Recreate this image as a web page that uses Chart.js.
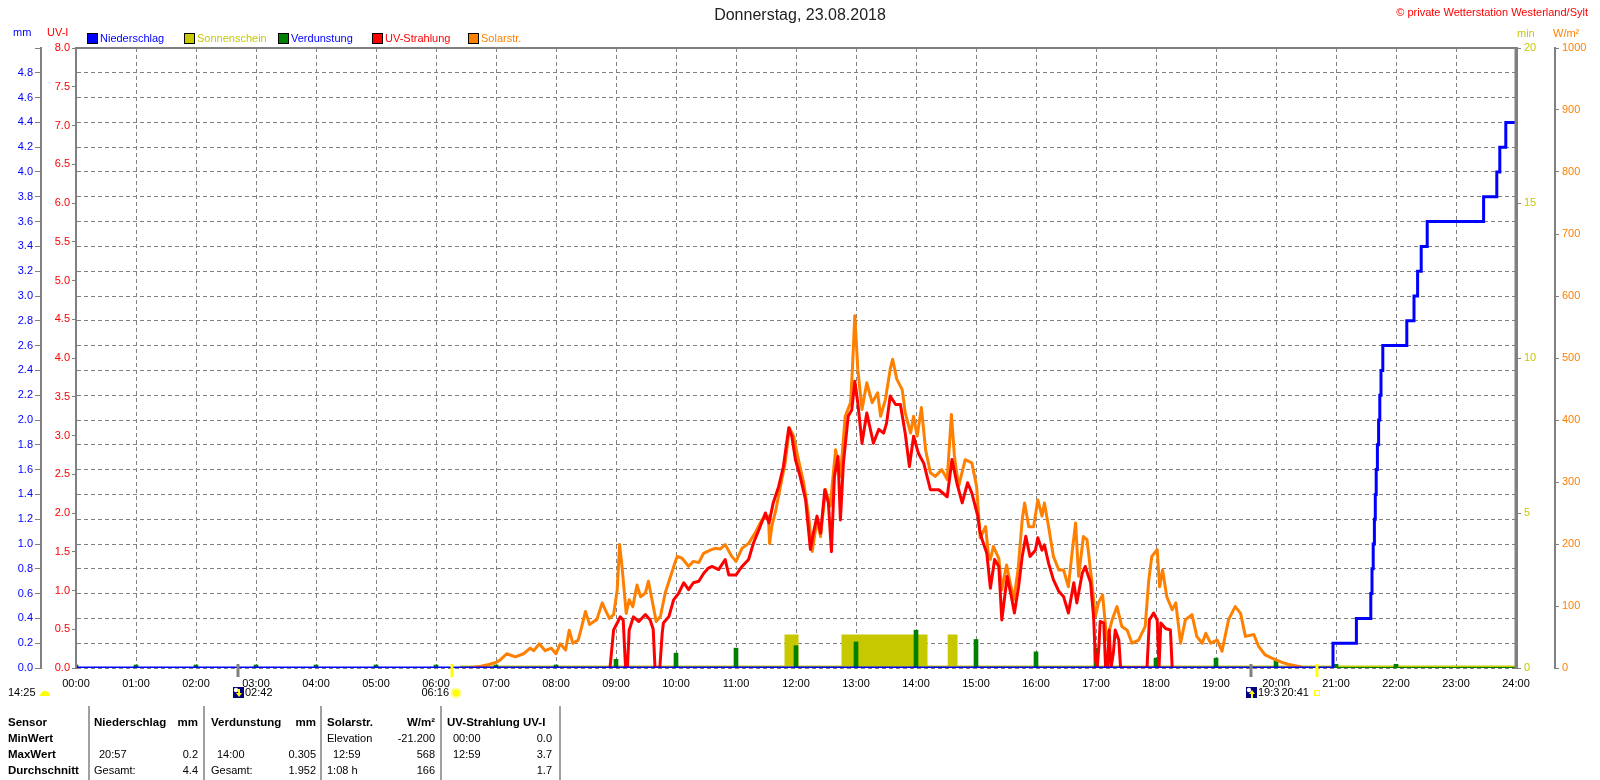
<!DOCTYPE html>
<html><head><meta charset="utf-8">
<script src="https://cdn.jsdelivr.net/npm/chart.js@4.4.0/dist/chart.umd.min.js"></script>
<style>
html,body{margin:0;padding:0;background:#fff;}
#wrap{position:relative;width:1600px;height:780px;overflow:hidden;font-family:"Liberation Sans",Arial,sans-serif;background:#fff;}
canvas{position:absolute;left:0;top:0;}
.t{position:absolute;white-space:nowrap;font-size:11px;line-height:14px;}
.r{text-align:right;}
.b{font-weight:bold;font-size:11.5px;}
.box{position:absolute;width:9px;height:9px;border:1px solid #000;}
.sep{position:absolute;top:706px;height:74px;width:2px;background:#a0a0a0;}
</style></head>
<body><div id="wrap">
<canvas id="c" width="1600" height="780"></canvas>
<div class="t" style="left:0;width:1600px;top:6px;text-align:center;font-size:16px;line-height:18px;color:#222;">Donnerstag, 23.08.2018</div>
<div class="t" style="right:12px;top:5px;color:#ff0000;">© private Wetterstation Westerland/Sylt</div>
<div class="t" style="left:13px;top:25px;color:#0000ff;">mm</div>
<div class="t" style="left:47px;top:25px;color:#ff0000;">UV-I</div>
<div class="t" style="left:1517px;top:26px;color:#c8c800;">min</div>
<div class="t" style="left:1553px;top:26px;color:#ff8000;">W/m²</div>
<div class="box" style="left:87px;top:33px;background:#0000ff;"></div><div class="t" style="left:100px;top:31px;color:#0000ff;">Niederschlag</div>
<div class="box" style="left:184px;top:33px;background:#c8c800;"></div><div class="t" style="left:197px;top:31px;color:#c8c800;">Sonnenschein</div>
<div class="box" style="left:278px;top:33px;background:#008000;"></div><div class="t" style="left:291px;top:31px;color:#0000ff;">Verdunstung</div>
<div class="box" style="left:372px;top:33px;background:#ff0000;"></div><div class="t" style="left:385px;top:31px;color:#ff0000;">UV-Strahlung</div>
<div class="box" style="left:468px;top:33px;background:#ff8000;"></div><div class="t" style="left:481px;top:31px;color:#ff8000;">Solarstr.</div>

<div class="sep" style="left:88px"></div><div class="sep" style="left:203px"></div><div class="sep" style="left:320px"></div><div class="sep" style="left:440px"></div><div class="sep" style="left:559px"></div>
<div class="t b" style="left:8px;top:715px;">Sensor</div>
<div class="t b" style="left:8px;top:731px;">MinWert</div>
<div class="t b" style="left:8px;top:747px;">MaxWert</div>
<div class="t b" style="left:8px;top:763px;">Durchschnitt</div>
<div class="t b" style="left:94px;top:715px;">Niederschlag</div><div class="t b r" style="left:160px;width:38px;top:715px;">mm</div>
<div class="t" style="left:99px;top:747px;">20:57</div><div class="t r" style="left:160px;width:38px;top:747px;">0.2</div>
<div class="t" style="left:94px;top:763px;">Gesamt:</div><div class="t r" style="left:160px;width:38px;top:763px;">4.4</div>
<div class="t b" style="left:211px;top:715px;">Verdunstung</div><div class="t b r" style="left:270px;width:46px;top:715px;">mm</div>
<div class="t" style="left:217px;top:747px;">14:00</div><div class="t r" style="left:270px;width:46px;top:747px;">0.305</div>
<div class="t" style="left:211px;top:763px;">Gesamt:</div><div class="t r" style="left:270px;width:46px;top:763px;">1.952</div>
<div class="t b" style="left:327px;top:715px;">Solarstr.</div><div class="t b r" style="left:390px;width:45px;top:715px;">W/m²</div>
<div class="t" style="left:327px;top:731px;">Elevation</div><div class="t r" style="left:380px;width:55px;top:731px;">-21.200</div>
<div class="t" style="left:333px;top:747px;">12:59</div><div class="t r" style="left:380px;width:55px;top:747px;">568</div>
<div class="t" style="left:327px;top:763px;">1:08 h</div><div class="t r" style="left:380px;width:55px;top:763px;">166</div>
<div class="t b" style="left:447px;top:715px;">UV-Strahlung UV-I</div>
<div class="t" style="left:453px;top:731px;">00:00</div><div class="t r" style="left:510px;width:42px;top:731px;">0.0</div>
<div class="t" style="left:453px;top:747px;">12:59</div><div class="t r" style="left:510px;width:42px;top:747px;">3.7</div>
<div class="t r" style="left:510px;width:42px;top:763px;">1.7</div>
</div>
<script>
// ---------- DATA ----------
const hourTicks = [0,1,2,3,4,5,6,7,8,9,10,11,12,13,14,15,16,17,18,19,20,21,22,23,24];
const hourLabels = ["00:00","01:00","02:00","03:00","04:00","05:00","06:00","07:00","08:00","09:00","10:00","11:00","12:00","13:00","14:00","15:00","16:00","17:00","18:00","19:00","20:00","21:00","22:00","23:00","24:00"];

// Solarstrahlung W/m² : [hour, value]
const solarSeries = [[6.55,0],[6.75,3],[6.9,6],[7.0,9],[7.07,13],[7.18,23],[7.32,18],[7.46,23],[7.57,32],[7.63,28],[7.72,39],[7.82,28],[7.92,32],[8.0,23],[8.07,39],[8.16,29],[8.22,61],[8.28,40],[8.37,45],[8.43,67],[8.49,91],[8.56,70],[8.63,75],[8.68,78],[8.77,105],[8.82,94],[8.89,80],[8.96,86],[9.02,126],[9.06,199],[9.1,164],[9.17,88],[9.22,110],[9.28,99],[9.35,134],[9.41,115],[9.49,121],[9.54,140],[9.6,110],[9.67,75],[9.74,83],[9.82,121],[9.91,148],[9.98,169],[10.02,180],[10.1,177],[10.21,164],[10.29,172],[10.38,170],[10.46,185],[10.57,190],[10.65,193],[10.74,192],[10.82,199],[10.93,180],[11.0,172],[11.1,193],[11.21,201],[11.32,218],[11.43,239],[11.54,245],[11.56,201],[11.6,230],[11.66,253],[11.74,293],[11.82,331],[11.89,387],[11.96,374],[12.04,336],[12.13,298],[12.21,245],[12.27,188],[12.35,239],[12.41,212],[12.49,288],[12.57,261],[12.66,352],[12.74,309],[12.82,406],[12.91,428],[12.94,482],[12.98,568],[13.03,482],[13.1,417],[13.18,460],[13.27,428],[13.36,444],[13.41,406],[13.49,433],[13.57,482],[13.61,498],[13.68,466],[13.77,449],[13.82,412],[13.91,379],[13.96,406],[14.02,374],[14.09,420],[14.16,352],[14.24,315],[14.32,309],[14.43,320],[14.52,304],[14.59,409],[14.64,342],[14.71,293],[14.82,336],[14.93,331],[15.01,293],[15.07,210],[15.16,228],[15.21,180],[15.24,175],[15.29,196],[15.38,177],[15.43,126],[15.51,166],[15.57,137],[15.63,110],[15.7,158],[15.77,239],[15.81,266],[15.88,228],[15.96,228],[16.03,271],[16.1,245],[16.14,266],[16.21,228],[16.29,180],[16.38,158],[16.46,158],[16.54,131],[16.6,185],[16.66,234],[16.71,148],[16.79,212],[16.85,207],[16.92,148],[16.99,83],[17.04,105],[17.11,118],[17.18,45],[17.27,78],[17.35,99],[17.43,67],[17.52,61],[17.6,40],[17.71,45],[17.82,67],[17.88,142],[17.93,180],[18.02,191],[18.06,131],[18.11,158],[18.18,115],[18.27,94],[18.33,105],[18.41,40],[18.49,78],[18.6,86],[18.68,51],[18.77,40],[18.83,56],[18.91,40],[19.02,45],[19.1,27],[19.21,78],[19.32,99],[19.41,88],[19.49,51],[19.63,54],[19.71,35],[19.82,21],[19.93,16],[20.0,13],[20.1,9],[20.2,6],[20.3,4],[20.4,2],[20.45,0]];

// UV-Strahlung UV-I : [hour, value]
const uvSeries = [[8.9,0],[8.96,0.49],[9.02,0.58],[9.07,0.66],[9.12,0.62],[9.14,0.3],[9.16,0],[9.19,0],[9.22,0.49],[9.29,0.66],[9.38,0.60],[9.49,0.69],[9.57,0.62],[9.62,0.5],[9.65,0],[9.73,0],[9.77,0.45],[9.79,0.58],[9.88,0.66],[9.96,0.88],[10.04,0.96],[10.13,1.10],[10.21,1.01],[10.29,1.10],[10.38,1.12],[10.46,1.22],[10.54,1.29],[10.6,1.31],[10.71,1.27],[10.82,1.40],[10.88,1.20],[11.0,1.20],[11.1,1.31],[11.21,1.40],[11.29,1.61],[11.38,1.78],[11.49,2.00],[11.55,1.87],[11.62,2.13],[11.71,2.34],[11.79,2.60],[11.88,3.10],[11.93,2.99],[11.99,2.69],[12.07,2.47],[12.16,2.17],[12.24,1.53],[12.29,1.74],[12.35,1.96],[12.41,1.74],[12.48,2.30],[12.54,2.13],[12.59,1.50],[12.64,2.47],[12.7,2.73],[12.74,1.91],[12.79,2.64],[12.87,3.25],[12.93,3.33],[12.98,3.70],[13.03,3.42],[13.1,2.90],[13.18,3.29],[13.29,2.90],[13.38,3.08],[13.46,3.03],[13.51,3.16],[13.57,3.51],[13.66,3.40],[13.74,3.40],[13.82,3.03],[13.89,2.60],[13.96,2.99],[14.04,2.77],[14.13,2.64],[14.24,2.30],[14.38,2.30],[14.52,2.21],[14.6,2.69],[14.68,2.39],[14.77,2.13],[14.86,2.39],[14.93,2.26],[15.03,1.96],[15.06,1.78],[15.1,1.66],[15.18,1.48],[15.24,1.03],[15.31,1.40],[15.38,1.31],[15.43,0.62],[15.52,1.18],[15.59,0.92],[15.64,0.71],[15.71,1.05],[15.77,1.44],[15.83,1.70],[15.9,1.44],[15.99,1.52],[16.03,1.68],[16.1,1.52],[16.14,1.59],[16.21,1.35],[16.29,1.14],[16.38,0.99],[16.46,0.92],[16.54,0.71],[16.63,1.10],[16.68,0.84],[16.77,1.22],[16.82,1.31],[16.91,1.10],[16.96,0.66],[16.99,0.1],[17.02,0],[17.05,0.3],[17.07,0.60],[17.13,0.58],[17.16,0],[17.19,0],[17.22,0.49],[17.25,0],[17.29,0.2],[17.32,0.49],[17.38,0.36],[17.41,0],[17.85,0],[17.89,0.62],[17.96,0.71],[18.02,0.62],[18.05,0],[18.08,0.58],[18.16,0.51],[18.24,0.49],[18.27,0]];

// Niederschlag mm (cumulative, step changes) : [hour, value]
const rainSeries = [[0,0],[20.95,0.2],[21.34,0.4],[21.58,0.6],[21.6,0.8],[21.62,1.0],[21.64,1.2],[21.655,1.4],[21.67,1.6],[21.69,1.8],[21.71,2.0],[21.73,2.2],[21.75,2.4],[21.78,2.6],[22.18,2.8],[22.30,3.0],[22.36,3.2],[22.42,3.4],[22.52,3.6],[23.46,3.8],[23.68,4.0],[23.73,4.2],[23.83,4.4],[24,4.4]];

// Sonnenschein min (step changes) : [hour, value]
const sunSeries = [[6.4,0],[11.85,1],[12.0,0],[12.8,1],[13.9,0],[13.92,1],[14.0,0],[14.08,1],[14.15,0],[14.57,1],[14.65,0],[24,0]];

// Verdunstung mm per hour : [hour, value]
const evapSeries = [[0,0.01],[1,0.01],[2,0.01],[3,0.01],[4,0.01],[5,0.01],[6,0.01],[7,0.01],[8,0.01],[9,0.07],[10,0.12],[11,0.16],[12,0.18],[13,0.21],[14,0.305],[15,0.23],[16,0.13],[17,0.16],[18,0.08],[19,0.08],[20,0.06],[21,0.03],[22,0.03]];
const dayRange = [0,24];

// astronomical events on the time axis
const eventTimes = [2.7, 6.267, 19.583, 20.683];
const eventLabels = ["02:42","06:16","19:35","20:41"];
const dayLength = "14:25";

// ---------- CHART ----------
const FONT = '"Liberation Sans", Arial, sans-serif';
const pts = s => s.map(p => ({x:p[0], y:p[1]}));
const noPad = s => { s.paddingTop = 0; s.paddingBottom = 0; s.paddingLeft = 0; s.paddingRight = 0; };

function moonIcon(ctx, left, cy, up){
  ctx.fillStyle = '#000080'; ctx.fillRect(left, cy - 6, 11, 11);
  ctx.fillStyle = '#ffffff'; ctx.beginPath(); ctx.arc(left + 3, cy - 3, 2.2, 0, Math.PI * 2); ctx.fill();
  ctx.fillStyle = '#ffff00'; ctx.beginPath();
  if (up) { ctx.moveTo(left + 3, cy + 1); ctx.lineTo(left + 9, cy + 1); ctx.lineTo(left + 6, cy - 3); }
  else { ctx.moveTo(left + 3, cy); ctx.lineTo(left + 9, cy); ctx.lineTo(left + 6, cy + 4); }
  ctx.fill();
  ctx.fillRect(left + 5, up ? cy + 1 : cy - 4, 2, 4);
}

const framePlugin = {
  id:'frame',
  afterDraw(chart){
    const {ctx, chartArea:a, scales:{x}} = chart;
    ctx.save();
    ctx.strokeStyle = '#808080';
    ctx.lineWidth = 2;
    ctx.beginPath(); ctx.moveTo(a.left, a.top); ctx.lineTo(a.right, a.top); ctx.stroke();
    ctx.beginPath(); ctx.moveTo(a.left, a.top); ctx.lineTo(a.left, a.bottom); ctx.stroke();
    ctx.lineWidth = 3;
    ctx.beginPath(); ctx.moveTo(a.right, a.top - 1); ctx.lineTo(a.right, a.bottom); ctx.stroke();

    const cy = a.bottom + 25;
    ctx.font = '11px ' + FONT;
    ctx.textBaseline = 'middle';
    const tickCol = ['#808080', '#ffff00', '#808080', '#ffff00'];
    eventTimes.forEach((t, i) => {
      const px = x.getPixelForValue(t);
      ctx.strokeStyle = tickCol[i]; ctx.lineWidth = 3;
      ctx.beginPath(); ctx.moveTo(px, a.bottom - 4); ctx.lineTo(px, a.bottom + 9); ctx.stroke();
    });
    // moonrise 02:42
    let px = x.getPixelForValue(eventTimes[0]);
    moonIcon(ctx, px - 5, cy, false);
    ctx.fillStyle = '#000'; ctx.textAlign = 'left'; ctx.fillText(eventLabels[0], px + 7, cy);
    // sunrise 06:16
    px = x.getPixelForValue(eventTimes[1]);
    ctx.fillStyle = '#000'; ctx.textAlign = 'right'; ctx.fillText(eventLabels[1], px - 3, cy);
    ctx.fillStyle = '#ffff99'; ctx.beginPath(); ctx.arc(px + 4, cy, 5.5, 0, Math.PI * 2); ctx.fill();
    ctx.fillStyle = '#ffff00'; ctx.beginPath(); ctx.arc(px + 4, cy, 3.5, 0, Math.PI * 2); ctx.fill();
    // moonset 19:35
    px = x.getPixelForValue(eventTimes[2]);
    moonIcon(ctx, px - 5, cy, true);
    ctx.fillStyle = '#000'; ctx.textAlign = 'left'; ctx.fillText(eventLabels[2], px + 7, cy);
    // sunset 20:41
    px = x.getPixelForValue(eventTimes[3]);
    ctx.textAlign = 'right';
    const w = ctx.measureText(eventLabels[3]).width;
    ctx.fillStyle = '#fff'; ctx.fillRect(px - 10 - w, cy - 7, w + 4, 14);
    ctx.fillStyle = '#000'; ctx.fillText(eventLabels[3], px - 8, cy);
    ctx.strokeStyle = '#ffff00'; ctx.lineWidth = 1; ctx.strokeRect(px - 2.5, cy - 2.5, 5, 5);
    // day length
    ctx.textAlign = 'left'; ctx.fillStyle = '#000'; ctx.fillText(dayLength, 8, cy);
    ctx.fillStyle = '#ffff00'; ctx.beginPath(); ctx.arc(45, cy + 3, 5, Math.PI, 0); ctx.fill();
    ctx.restore();
  }
};

new Chart(document.getElementById('c'), {
  type:'line',
  data:{
    datasets:[
      {label:'Niederschlag', data:pts(rainSeries), yAxisID:'mm', borderColor:'#0000ff', borderWidth:3, stepped:true, pointRadius:0, fill:false, order:0},
      {label:'UV-Strahlung', data:pts(uvSeries), yAxisID:'uv', borderColor:'#ff0000', borderWidth:3, pointRadius:0, fill:false, borderJoinStyle:'round', order:1},
      {label:'Solarstr.', data:pts(solarSeries), yAxisID:'w', borderColor:'#ff8000', borderWidth:3, pointRadius:0, fill:false, borderJoinStyle:'round', order:2},
      {label:'Verdunstung', type:'bar', data:pts(evapSeries), yAxisID:'mm', backgroundColor:'#008000', barThickness:4, minBarLength:3, grouped:false, order:3},
      {label:'Verdunstung0', data:dayRange.map(h => ({x:h, y:0})), yAxisID:'mm', borderColor:'#008000', borderWidth:2, pointRadius:0, fill:false, order:4},
      {label:'Sonnenschein', data:pts(sunSeries), yAxisID:'mins', borderColor:'#c8c800', backgroundColor:'#c8c800', borderWidth:5, stepped:true, pointRadius:0, fill:'origin', order:5}
    ]
  },
  options:{
    responsive:false, animation:false, devicePixelRatio:1,
    layout:{padding:{top:48, bottom:0, left:0, right:0}},
    plugins:{legend:{display:false}, tooltip:{enabled:false}, title:{display:false}},
    elements:{point:{radius:0}, line:{tension:0}},
    scales:{
      x:{type:'linear', position:'bottom', min:0, max:24, offset:false,
        afterBuildTicks:s => { s.ticks = hourTicks.map(v => ({value:v})); },
        ticks:{autoSkip:false, maxRotation:0, color:'#000', font:{size:11, family:FONT}, padding:9,
          callback:v => hourLabels[hourTicks.indexOf(v)]},
        grid:{color:'#808080', lineWidth:1, drawTicks:false, drawOnChartArea:true, offset:false},
        border:{display:false, dash:[4,3]},
        afterFit:s => { s.height = 112; noPad(s); }},
      mm:{type:'linear', position:'left', weight:1, min:0, max:5,
        ticks:{stepSize:0.2, autoSkip:false, color:'#0000ff', font:{size:11, family:FONT}, padding:2,
          callback:v => (v > 4.95 ? '' : Number(v).toFixed(1))},
        grid:{color:'#808080', lineWidth:1, drawOnChartArea:true, drawTicks:true, tickLength:6, tickColor:'#808080', tickBorderDash:[]},
        border:{display:true, color:'#808080', width:2, dash:[4,3]},
        afterFit:s => { s.width = 41; noPad(s); }},
      uv:{type:'linear', position:'left', weight:0, min:0, max:8,
        ticks:{stepSize:0.5, autoSkip:false, color:'#ff0000', font:{size:11, family:FONT}, padding:2,
          callback:v => Number(v).toFixed(1)},
        grid:{drawOnChartArea:false, drawTicks:true, tickLength:4, tickColor:'#808080'},
        border:{display:true, color:'#808080', width:2},
        afterFit:s => { s.width = 35; noPad(s); }},
      mins:{type:'linear', position:'right', weight:0, min:0, max:20,
        ticks:{stepSize:5, autoSkip:false, color:'#c8c800', font:{size:11, family:FONT}, padding:3,
          callback:v => String(v)},
        grid:{drawOnChartArea:false, drawTicks:true, tickLength:5, tickColor:'#808080'},
        border:{display:true, color:'#808080', width:3},
        afterFit:s => { s.width = 39; noPad(s); }},
      w:{type:'linear', position:'right', weight:1, min:0, max:1000,
        ticks:{stepSize:100, autoSkip:false, color:'#ff8000', font:{size:11, family:FONT}, padding:3,
          callback:v => String(v)},
        grid:{drawOnChartArea:false, drawTicks:true, tickLength:4, tickColor:'#808080'},
        border:{display:true, color:'#808080', width:2},
        afterFit:s => { s.width = 45; noPad(s); }}
    }
  },
  plugins:[framePlugin]
});
</script>
</body></html>
